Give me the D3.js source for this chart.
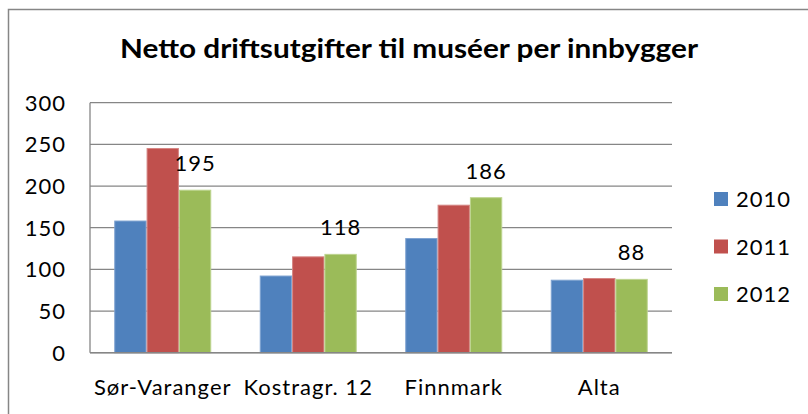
<!DOCTYPE html>
<html>
<head>
<meta charset="utf-8">
<script src="https://cdn.jsdelivr.net/npm/d3@7"></script>
<style>
  body { margin: 0; background: #fff; }
</style>
</head>
<body>
<script>
// chart values
const categories = ['Sør-Varanger', 'Kostragr. 12', 'Finnmark', 'Alta']
const years = ['2010', '2011', '2012']
const values2010 = [158, 92, 137, 87]
const values2011 = [245, 115, 177, 89]
const values2012 = [195, 118, 186, 88]
const yTicks = [0, 50, 100, 150, 200, 250, 300]
const title = 'Netto driftsutgifter til muséer per innbygger'

const series = [values2010, values2011, values2012]
const colors = ['#4F81BD', '#C0504D', '#9BBB59']
const edges = ['#7FA3D1', '#D58583', '#BDD48E']

const W = 808, H = 414
const font = 'Lato, "Open Sans", sans-serif'
const fs = 22
const ls = 1

const svg = d3.create('svg')
  .attr('width', W)
  .attr('height', H)
  .style('display', 'block')

// outer chart border
svg.append('rect')
  .attr('x', 8.5).attr('y', 9.5)
  .attr('width', 820).attr('height', 420)
  .attr('fill', 'white')
  .attr('stroke', '#868686')
  .attr('stroke-width', 1.5)

const plot = { left: 90, right: 672, top: 102.7, bottom: 352.7 }

const x0 = d3.scaleBand().domain(categories).range([plot.left, plot.right]).paddingInner(1.5 / 4.5).paddingOuter(0.75 / 4.5)
const x1 = d3.scaleBand().domain(years).range([0, x0.bandwidth()])
const y = d3.scaleLinear().domain([0, 300]).range([plot.bottom, plot.top])

// gridlines
svg.append('g')
  .selectAll('line')
  .data(yTicks)
  .join('line')
  .attr('x1', plot.left).attr('x2', plot.right)
  .attr('y1', d => y(d)).attr('y2', d => y(d))
  .attr('stroke', '#868686')
  .attr('stroke-width', 1.3)

// y tick labels
svg.append('g')
  .selectAll('text')
  .data(yTicks)
  .join('text')
  .attr('x', 66)
  .attr('y', d => y(d) + 8)
  .attr('text-anchor', 'end')
  .attr('font-family', font)
  .attr('font-size', fs)
  .attr('letter-spacing', ls)
  .attr('fill', '#000')
  .text(d => d)

// bars
const groups = svg.append('g')
  .selectAll('g')
  .data(categories)
  .join('g')
  .attr('transform', c => `translate(${x0(c)},0)`)

groups.selectAll('rect')
  .data((c, ci) => series.map((s, si) => ({ year: years[si], value: s[ci], si })))
  .join('rect')
  .attr('x', d => x1(d.year) + 0.5)
  .attr('y', d => y(d.value))
  .attr('width', x1.bandwidth() - 1)
  .attr('height', d => y(0) - y(d.value))
  .attr('fill', d => colors[d.si])
  .attr('stroke', d => edges[d.si])
  .attr('stroke-width', 1)

// data labels for 2012
groups.append('text')
  .attr('x', (c, ci) => x1('2012') + x1.bandwidth() / 2)
  .attr('y', (c, ci) => y(values2012[ci]) - 19)
  .attr('text-anchor', 'middle')
  .attr('font-family', font)
  .attr('font-size', fs)
  .attr('letter-spacing', ls)
  .text((c, ci) => values2012[ci])

// y axis line and baseline
svg.append('line')
  .attr('x1', plot.left).attr('x2', plot.left)
  .attr('y1', plot.top).attr('y2', plot.bottom)
  .attr('stroke', '#868686').attr('stroke-width', 1.3)
svg.append('line')
  .attr('x1', plot.left).attr('x2', plot.right)
  .attr('y1', plot.bottom).attr('y2', plot.bottom)
  .attr('stroke', '#868686').attr('stroke-width', 1.5)

// category labels
svg.append('g')
  .selectAll('text')
  .data(categories)
  .join('text')
  .attr('x', c => x0(c) + x0.bandwidth() / 2)
  .attr('y', 395)
  .attr('text-anchor', 'middle')
  .attr('font-family', font)
  .attr('font-size', fs)
  .attr('letter-spacing', ls)
  .text(c => c)

// title
svg.append('text')
  .attr('x', 409)
  .attr('y', 57.5)
  .attr('text-anchor', 'middle')
  .attr('font-family', font)
  .attr('font-weight', 'bold')
  .attr('font-size', 26)
  .attr('textLength', 578)
  .attr('lengthAdjust', 'spacingAndGlyphs')
  .text(title)

// legend
const legend = svg.append('g')
  .selectAll('g')
  .data(years)
  .join('g')
  .attr('transform', (d, i) => `translate(714, ${192 + i * 47.5})`)

legend.append('rect')
  .attr('width', 14).attr('height', 14)
  .attr('fill', (d, i) => colors[i])

legend.append('text')
  .attr('x', 22)
  .attr('y', 15)
  .attr('font-family', font)
  .attr('font-size', fs)
  .attr('letter-spacing', ls)
  .text(d => d)

document.body.appendChild(svg.node())
</script>
</body>
</html>
